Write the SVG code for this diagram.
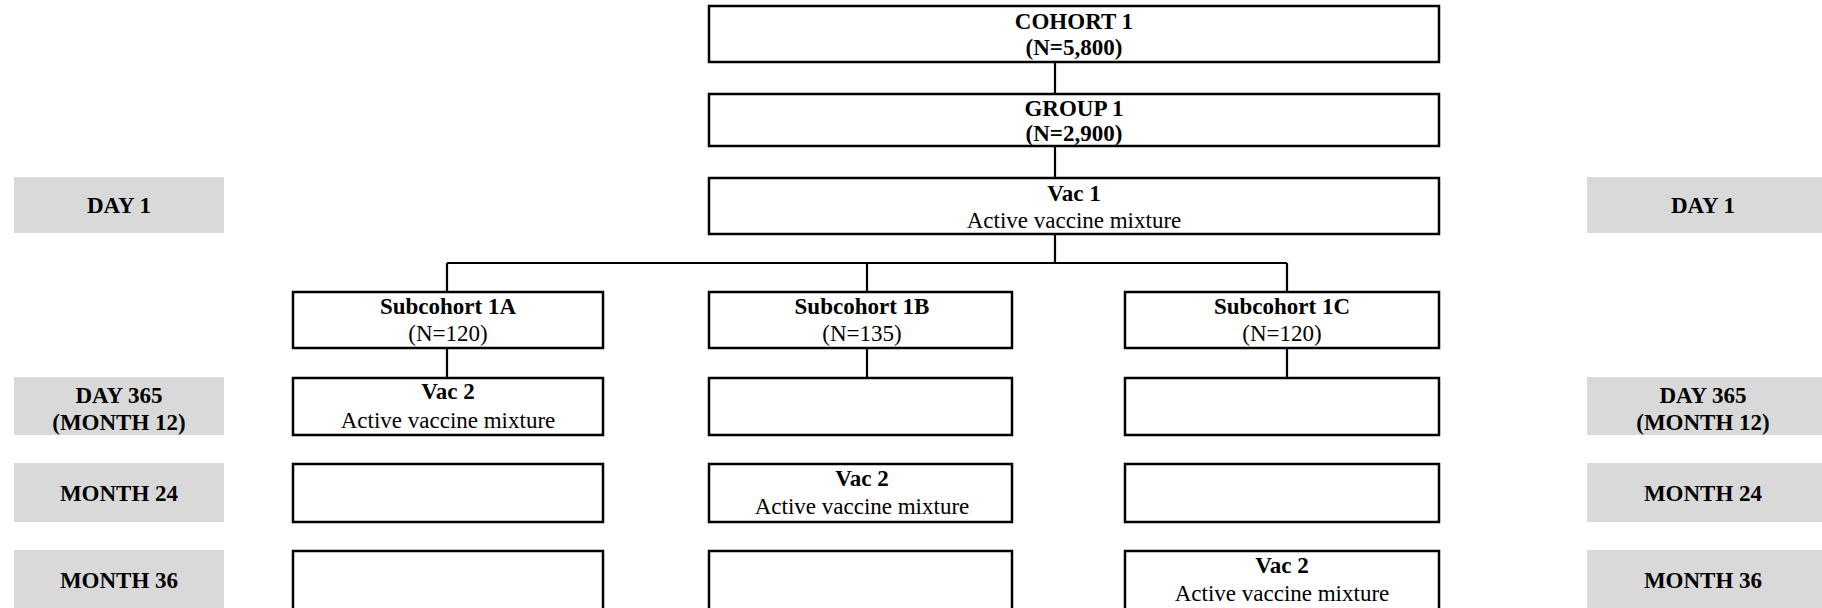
<svg xmlns="http://www.w3.org/2000/svg" width="1822" height="608" viewBox="0 0 1822 608">
  <style>
    text { font-family: "Liberation Serif", "Times New Roman", serif; font-size: 23px; fill: #000; text-anchor: middle; }
    .b { font-weight: bold; }
    .box { fill: #fff; stroke: #000; stroke-width: 2.5; }
    .tag { fill: #d9d9d9; stroke: none; }
    .wire { fill: none; stroke: #000; stroke-width: 2.2; }
  </style>

  <!-- connectors -->
  <g id="connectors">
    <path class="wire" d="M1055 62 V94"/>
    <path class="wire" d="M1055 146 V178"/>
    <path class="wire" d="M1055 234 V263 M447 263 H1287 M447 263 V292 M867 263 V292 M1287 263 V292"/>
    <path class="wire" d="M447 348 V378 M867 348 V378 M1287 348 V378"/>
  </g>

  <!-- main trunk -->
  <g id="cohort1">
    <rect class="box" x="709" y="6" width="730" height="56"/>
    <text class="b" x="1074" y="29">COHORT 1</text>
    <text class="b" x="1074" y="55">(N=5,800)</text>
  </g>
  <g id="group1">
    <rect class="box" x="709" y="94" width="730" height="52"/>
    <text class="b" x="1074" y="116">GROUP 1</text>
    <text class="b" x="1074" y="141">(N=2,900)</text>
  </g>
  <g id="vac1">
    <rect class="box" x="709" y="178" width="730" height="56"/>
    <text class="b" x="1074" y="201">Vac 1</text>
    <text x="1074" y="228">Active vaccine mixture</text>
  </g>

  <!-- subcohorts -->
  <g id="subcohort1A">
    <rect class="box" x="293" y="292" width="310" height="56"/>
    <text class="b" x="448" y="314">Subcohort 1A</text>
    <text x="448" y="341">(N=120)</text>
  </g>
  <g id="subcohort1B">
    <rect class="box" x="709" y="292" width="303" height="56"/>
    <text class="b" x="862" y="314">Subcohort 1B</text>
    <text x="862" y="341">(N=135)</text>
  </g>
  <g id="subcohort1C">
    <rect class="box" x="1125" y="292" width="314" height="56"/>
    <text class="b" x="1282" y="314">Subcohort 1C</text>
    <text x="1282" y="341">(N=120)</text>
  </g>

  <!-- month 12 -->
  <g id="m12-1A">
    <rect class="box" x="293" y="378" width="310" height="57"/>
    <text class="b" x="448" y="399">Vac 2</text>
    <text x="448" y="428">Active vaccine mixture</text>
  </g>
  <g id="m12-1B"><rect class="box" x="709" y="378" width="303" height="57"/></g>
  <g id="m12-1C"><rect class="box" x="1125" y="378" width="314" height="57"/></g>

  <!-- month 24 -->
  <g id="m24-1A"><rect class="box" x="293" y="464" width="310" height="58"/></g>
  <g id="m24-1B">
    <rect class="box" x="709" y="464" width="303" height="58"/>
    <text class="b" x="862" y="486">Vac 2</text>
    <text x="862" y="514">Active vaccine mixture</text>
  </g>
  <g id="m24-1C"><rect class="box" x="1125" y="464" width="314" height="58"/></g>

  <!-- month 36 -->
  <g id="m36-1A"><rect class="box" x="293" y="551" width="310" height="60"/></g>
  <g id="m36-1B"><rect class="box" x="709" y="551" width="303" height="60"/></g>
  <g id="m36-1C">
    <rect class="box" x="1125" y="551" width="314" height="60"/>
    <text class="b" x="1282" y="573">Vac 2</text>
    <text x="1282" y="601">Active vaccine mixture</text>
  </g>

  <!-- timeline tags, left -->
  <g id="tag-left-day1">
    <rect class="tag" x="14" y="177" width="210" height="56"/>
    <text class="b" x="119" y="213">DAY 1</text>
  </g>
  <g id="tag-left-m12">
    <rect class="tag" x="14" y="377" width="210" height="58"/>
    <text class="b" x="119" y="403">DAY 365</text>
    <text class="b" x="119" y="430">(MONTH 12)</text>
  </g>
  <g id="tag-left-m24">
    <rect class="tag" x="14" y="463" width="210" height="59"/>
    <text class="b" x="119" y="501">MONTH 24</text>
  </g>
  <g id="tag-left-m36">
    <rect class="tag" x="14" y="550" width="210" height="62"/>
    <text class="b" x="119" y="588">MONTH 36</text>
  </g>

  <!-- timeline tags, right -->
  <g id="tag-right-day1">
    <rect class="tag" x="1587" y="177" width="235" height="56"/>
    <text class="b" x="1703" y="213">DAY 1</text>
  </g>
  <g id="tag-right-m12">
    <rect class="tag" x="1587" y="377" width="235" height="58"/>
    <text class="b" x="1703" y="403">DAY 365</text>
    <text class="b" x="1703" y="430">(MONTH 12)</text>
  </g>
  <g id="tag-right-m24">
    <rect class="tag" x="1587" y="463" width="235" height="59"/>
    <text class="b" x="1703" y="501">MONTH 24</text>
  </g>
  <g id="tag-right-m36">
    <rect class="tag" x="1587" y="550" width="235" height="62"/>
    <text class="b" x="1703" y="588">MONTH 36</text>
  </g>
</svg>
